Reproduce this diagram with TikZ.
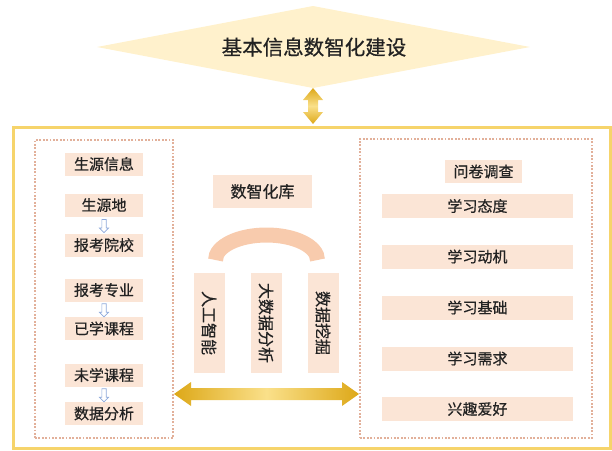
\documentclass[tikz,border=0pt]{standalone}
\usepackage{fontspec}
\setmainfont[FakeBold=0.6]{Noto Sans CJK SC}
\usetikzlibrary{calc,shapes.arrows}
\definecolor{boxfill}{HTML}{FBE5D6}
\definecolor{arcfill}{HTML}{F8CBAD}
\definecolor{dotcol}{HTML}{E2B09A}
\definecolor{framecol}{HTML}{F6D46B}
\definecolor{diafill}{HTML}{FFF1CC}
\definecolor{golddark}{HTML}{DDA818}
\definecolor{goldlight}{HTML}{FAE08A}
\definecolor{txt}{HTML}{222222}
\definecolor{arrowblue}{HTML}{8EA9DB}
\tikzset{
  lbox/.style={fill=boxfill, text=txt, font=\fontsize{15}{15}\selectfont, minimum width=78pt, minimum height=23pt, inner sep=0pt},
  rbox/.style={fill=boxfill, text=txt, font=\fontsize{15}{15}\selectfont, minimum width=191pt, minimum height=24pt, inner sep=0pt},
  vbox/.style={fill=boxfill, text=txt, font=\fontsize{16}{16}\selectfont, minimum width=31pt, minimum height=100pt, inner sep=0pt},
  dotbox/.style={draw=dotcol, line width=2pt, dash pattern=on 1.8pt off 1.6pt},
  hollowdown/.style={single arrow, draw=arrowblue, fill=white, line width=0.7pt, minimum height=13pt, inner sep=1.8pt, single arrow head extend=2.4pt, shape border rotate=270},
  goldarrowv/.style={top color=golddark, bottom color=golddark, middle color=goldlight},
  goldarrowh/.style={left color=golddark, right color=golddark, middle color=goldlight}
}
\begin{document}
\begin{tikzpicture}[x=1pt,y=-1pt]
\useasboundingbox (0,0) rectangle (612,450);
% title diamond
\coordinate (dl) at (97,47);
\coordinate (dt) at (313,6);
\coordinate (dr) at (530,47);
\coordinate (db) at (313,88);
\fill[diafill] (dl) -- (dt) -- (dr) -- (db) -- cycle;
\node[text=txt, font=\fontsize{20.5}{20.5}\selectfont] (title) at (314,47) {基本信息数智化建设};
% outer frame
\node[draw=framecol, line width=3pt, minimum width=597pt, minimum height=321pt, inner sep=0pt] (frame) at (311.5,287.5) {};
% vertical double arrow
\coordinate (vt) at (db);
\path[goldarrowv] (vt) -- ++(10,12) -- ++(-5,0) -- ++(0,12) -- ++(5,0) -- ++(-10,12) -- ++(-10,-12) -- ++(5,0) -- ++(0,-12) -- ++(-5,0) -- cycle;
% dotted boxes
\node[dotbox, minimum width=138pt, minimum height=298pt, inner sep=0pt] (leftdots) at (104,289) {};
\node[dotbox, minimum width=232pt, minimum height=299pt, inner sep=0pt] (rightdots) at (476,288.5) {};
% left column
\node[lbox] (sy) at (104,164) {生源信息};
\node[lbox] (syd) at (104,205) {生源地};
\node[lbox] (bkyx) at (104,245) {报考院校};
\node[lbox] (bkzy) at (104,290) {报考专业};
\node[lbox] (yxkc) at (104,328.5) {已学课程};
\node[lbox] (wxkc) at (104,375) {未学课程};
\node[lbox] (sjfx) at (104,413.5) {数据分析};
\node[hollowdown] (a1) at ($(syd.south)!0.5!(bkyx.north)$) {};
\node[hollowdown] (a2) at ($(bkzy.south)!0.5!(yxkc.north)$) {};
\node[hollowdown] (a3) at ($(wxkc.south)!0.5!(sjfx.north)$) {};
% centre
\node[fill=boxfill, text=txt, font=\fontsize{16}{16}\selectfont, minimum width=99pt, minimum height=33pt, inner sep=0pt] (lib) at (262.5,191.5) {数智化库};
\draw[arcfill, line width=15pt] (215.5,260) arc[start angle=180, end angle=0, x radius=51pt, y radius=25pt];
\node[vbox] (ai) at (209,323) {\rotatebox{-90}{人工智能}};
\node[vbox] (bd) at (266,323) {\rotatebox{-90}{大数据分析}};
\node[vbox] (dm) at (323,323) {\rotatebox{-90}{数据挖掘}};
% horizontal double arrow
\coordinate (hl) at (leftdots.east |- 0,394);
\coordinate (hr) at (rightdots.west |- 0,394);
\path[goldarrowh] (hl) -- ++(17,-12) -- ++(0,6) -- ($(hr)+(-17,-6)$) -- ++(0,-6) -- (hr) -- ++(-17,12) -- ++(0,-6) -- ($(hl)+(17,6)$) -- ++(0,6) -- cycle;
% right column
\node[lbox, minimum width=77pt] (wj) at (483.5,171.5) {问卷调查};
\node[rbox] (td) at (477.5,206) {学习态度};
\node[rbox] (dj) at (477.5,256.5) {学习动机};
\node[rbox] (jc) at (477.5,307.5) {学习基础};
\node[rbox] (xq) at (477.5,358.5) {学习需求};
\node[rbox] (ah) at (477.5,409) {兴趣爱好};
\end{tikzpicture}
\end{document}
